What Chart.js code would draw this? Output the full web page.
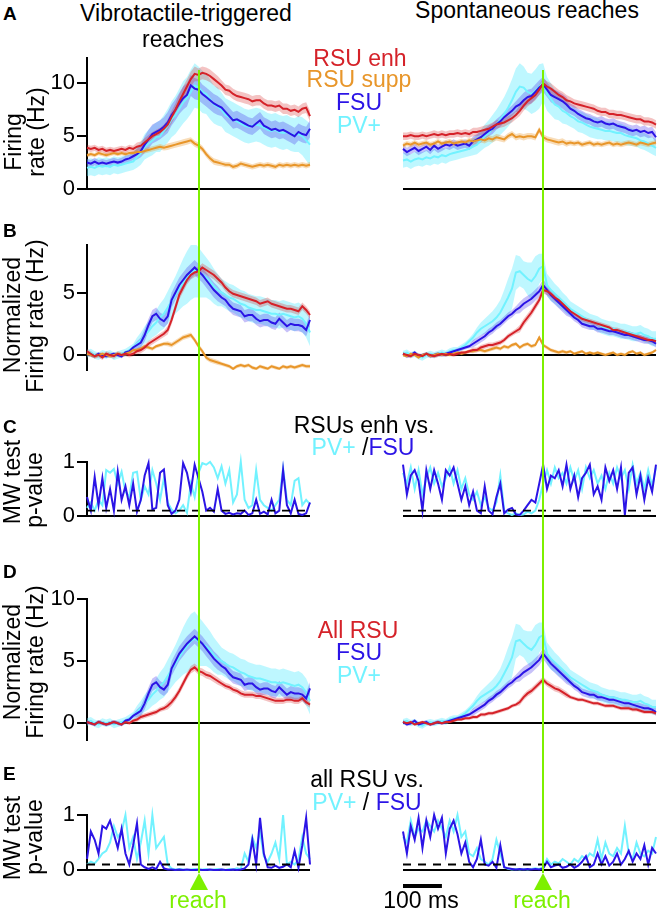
<!DOCTYPE html>
<html><head><meta charset="utf-8">
<script src="https://cdn.jsdelivr.net/npm/chart.js@4.4.1/dist/chart.umd.min.js"></script>
<style>
html,body{margin:0;padding:0;background:#fff;}
#wrap{position:relative;width:660px;height:912px;overflow:hidden;background:#fff;font-family:"Liberation Sans",Arial,Helvetica,sans-serif;}
#wrap canvas{position:absolute;}
.tx{position:absolute;white-space:nowrap;line-height:1;color:#000;z-index:5;}
</style></head><body><div id="wrap"></div>
<script>
// ---------- time grids (ms relative to reach) ----------
const tL = [-290,-280,-270,-260,-250,-240,-230,-220,-210,-200,-190,-180,-170,-160,-150,-140,-130,-120,-110,-100,-90,-80,-70,-60,-50,-40,-30,-20,-10,0,10,20,30,40,50,60,70,80,90,100,110,120,130,140,150,160,170,180,190,200,210,220,230,240,250,260,270,280,290];
const tR = [-360,-350,-340,-330,-320,-310,-300,-290,-280,-270,-260,-250,-240,-230,-220,-210,-200,-190,-180,-170,-160,-150,-140,-130,-120,-110,-100,-90,-80,-70,-60,-50,-40,-30,-20,-10,0,10,20,30,40,50,60,70,80,90,100,110,120,130,140,150,160,170,180,190,200,210,220,230,240,250,260,270,280,290];
const REACH_T = 0;
const SCALEBAR_MS = 100;
const ALPHA = 0.1;

// ---------- tick labels ----------
const ticksA = [0,5,10];
const ticksB = [0,5];
const ticksC = [0,1];
const ticksD = [0,5,10];
const ticksE = [0,1];

// ---------- A: firing rate (Hz), vibrotactile-triggered ----------
const rsuEnhL = [3.9,3.8,3.9,3.7,3.8,3.6,3.7,3.6,3.7,3.8,3.7,3.9,3.8, 4.0,4.1,4.4,4.7,5.0,5.2,5.4,5.7, 6.1,6.8,7.5,8.3,9.0,9.7,10.4,10.9,10.8,11.0,10.9,10.7,10.4,10.1, 9.8,9.4,9.3,9.0,8.8,8.7,8.6,8.5,8.3,8.4,8.4,8.1,7.9,7.9,7.8,7.9,7.6,7.6,7.4,7.5,7.3,7.6,7.7,6.9];
const rsuSuppL = [3.2,3.3,3.2,3.4,3.3,3.2,3.3,3.4,3.3,3.4,3.3,3.4,3.4, 3.5,3.5,3.6,3.7,3.8,3.9,4.0,3.9, 4.0,4.1,4.2,4.3,4.4,4.5,4.6,4.3,4.1,3.8,3.3,2.9,2.6,2.5, 2.4,2.3,2.3,2.1,2.2,2.4,2.3,2.2,2.1,2.2,2.3,2.2,2.3,2.2,2.1,2.3,2.2,2.3,2.2,2.3,2.2,2.3,2.2,2.3];
const fsuL = [2.5,2.4,2.6,2.4,2.5,2.4,2.5,2.6,2.5,2.6,2.8,2.9,3.1, 3.3,3.6,4.2,4.7,5.2,5.4,5.6,5.9, 6.3,7.0,7.5,8.1,8.6,8.9,9.8,9.5,9.4,9.0,8.7,8.4,8.1,7.9, 7.7,7.3,6.9,6.5,6.6,6.4,6.2,6.0,5.9,6.2,6.5,6.0,5.8,5.6,5.7,5.5,5.6,5.4,5.2,5.0,5.4,5.2,5.1,5.7];
const pvL = [2.0,2.1,2.0,2.2,2.1,2.2,2.1,2.3,2.2,2.3,2.4,2.5,2.6, 3.0,3.4,4.0,4.3,4.6,4.9,5.0,5.5, 6.0,6.6,7.0,7.6,8.2,8.6,9.2,9.8,9.6,9.2,9.0,8.5,8.0,7.8, 7.5,7.0,6.8,6.6,6.4,6.2,6.0,5.9,6.0,6.1,6.0,5.8,5.6,5.5,5.6,5.4,5.3,5.4,5.2,5.1,5.2,5.0,4.6,4.2];
const semEnhL = [.3,.3,.3,.3,.3,.3,.3,.3,.3,.3,.3,.3,.3, .4,.4,.4,.4,.4,.4,.4,.4, .5,.6,.6,.7,.7,.7,.7,.7,.6,.6,.6,.6,.6,.6, .5,.5,.5,.5,.5,.5,.5,.5,.5,.5, .5,.5,.5,.5,.5,.5,.5,.5,.5,.5, .5,.5,.5,.5];
const semSuppL = [.2,.2,.2,.2,.2,.2,.2,.2,.2,.2,.2,.2,.2, .25,.25,.25,.25,.25,.25,.25,.25, .3,.3,.3,.3,.3,.3,.3,.3,.3,.3,.3,.3,.3,.3, .25,.25,.25,.25,.25,.25,.25,.25,.25,.25, .25,.25,.25,.25,.25,.25,.25,.25,.25,.25, .25,.25,.25,.25];
const semFsuL = [.35,.35,.35,.35,.35,.35,.35,.35,.35,.35,.35,.35,.35, .5,.6,.8,.9,.9,.9,.9,.9, 1,1,1,1,1.1,1.1,1,1,1,.9,.9,.9,.9,.9, .8,.8,.8,.8,.8,.8,.8,.8,.8,.8, .8,.8,.8,.8,.8,.8,.8,.8,.8,.8, .8,.8,.8,.8];
const semPvL = [.8,.8,.8,.8,.8,.8,.8,.8,.8,.8,.8,.8,.8, 1,1.1,1.2,1.3,1.4,1.4,1.5,1.5, 1.6,1.7,1.8,1.9,2,2,2.1,2.1,2,2,1.9,1.9,1.8,1.8, 1.6,1.6,1.6,1.6,1.6,1.6,1.6,1.6,1.6,1.6, 1.6,1.6,1.6,1.6,1.6,1.6,1.6,1.6,1.6,1.6, 1.7,1.8,1.9,2];

// ---------- A: firing rate (Hz), spontaneous ----------
const rsuEnhR = [5.0,5.0,5.1,5.0,5.0,5.1,5.0,5.1,5.2,5.1,5.2,5.1,5.2,5.2,5.3,5.2,5.3,5.2, 5.4,5.4,5.5,5.6,5.7,5.9,6.1,6.2,6.3,6.5,6.7,7.0, 7.4,7.9,8.3,8.6,8.9,9.4,10.0,9.7,9.5,9.2,8.9,8.7,8.4, 8.3,8.1,8.0,7.9,7.8,7.7,7.6,7.4,7.3,7.3,7.1,7.1,7.0,7.0,6.9,6.8,6.7,6.6,6.6,6.4,6.4,6.3,6.1];
const rsuSuppR = [4.1,4.3,4.2,4.4,4.2,4.3,4.4,4.2,4.3,4.5,4.3,4.4,4.5,4.3,4.4,4.5,4.4,4.6, 4.5,4.6,4.7,4.6,4.8,4.7,4.9,4.8,4.7,5.0,5.2,4.9, 5.0,4.9,5.0,5.0,4.9,5.6,4.9,4.7,4.6,4.5,4.4,4.5,4.3, 4.4,4.3,4.4,4.2,4.3,4.4,4.2,4.3,4.2,4.3,4.4,4.2,4.3,4.2,4.3,4.4,4.3,4.2,4.4,4.3,4.2,4.3,4.4];
const fsuR = [3.8,3.5,3.7,3.9,3.6,3.8,4.0,3.7,4.1,3.8,4.0,4.2,4.1,4.3,4.1,4.2,4.3,4.1, 4.5,4.7,4.9,5.2,5.5,5.7,6.1,6.4,6.8,7.1,7.4,7.8, 8.0,8.4,8.7,8.8,9.2,9.6,9.9,9.4,8.9,8.7,8.5,8.3,8.0, 7.6,7.4,7.1,6.9,6.7,6.6,6.4,6.3,6.4,6.2,6.1,6.2,6.0,5.9,5.8,5.6,5.5,5.6,5.4,5.5,5.3,5.4,4.9];
const pvR = [2.7,2.8,2.6,2.8,2.9,2.8,3.0,2.9,3.1,3.0,3.2,3.1,3.3,3.4,3.5,3.6,3.7,3.8, 4.0,4.2,4.6,5.0,5.3,5.7,6.1,6.6,7.1,7.7,8.4,9.2, 9.7,9.6,9.2,9.0,9.3,9.7,10.1,9.0,8.5,8.0,7.8,7.4,7.2, 6.9,6.7,6.4,6.3,6.1,5.9,5.8,5.7,5.6,5.5,5.5,5.4,5.3,5.3,5.1,5.0,4.9,4.8,4.6,4.5,4.3,4.1,3.9];
const semEnhR = [.35,.35,.35,.35,.35,.35,.35,.35,.35,.35,.35,.35,.35,.35,.35,.35,.35,.35, .4,.4,.4,.4,.4,.4,.4,.4,.4,.4,.4,.4, .5,.5,.5,.5,.5,.5,.5,.5,.5,.5,.5,.5,.5, .4,.4,.4,.4,.4,.4,.4,.4,.4,.4,.4,.4,.4,.4,.4,.4,.4,.4,.4,.4,.4,.4,.4];
const semSuppR = [.25,.25,.25,.25,.25,.25,.25,.25,.25,.25,.25,.25,.25,.25,.25,.25,.25,.25, .3,.3,.3,.3,.3,.3,.3,.3,.3,.3,.3,.3, .3,.3,.3,.3,.3,.3,.3,.3,.3,.3,.3,.3,.3, .25,.25,.25,.25,.25,.25,.25,.25,.25,.25,.25,.25,.25,.25,.25,.25,.25,.25,.25,.25,.25,.25,.25];
const semFsuR = [.4,.4,.4,.4,.4,.4,.4,.4,.4,.4,.4,.4,.4,.4,.4,.4,.4,.4, .5,.5,.5,.5,.5,.5,.5,.5,.5,.5,.5,.5, .7,.7,.7,.7,.7,.7,.7,.7,.7,.7,.7,.7,.7, .5,.5,.5,.5,.5,.5,.5,.5,.5,.5,.5,.5,.5,.5,.5,.5,.5,.5,.5,.5,.5,.5,.5];
const semPvR = [.7,.7,.7,.7,.7,.7,.7,.7,.7,.7,.7,.7,.7,.7,.7,.7,.7,.7, .8,.9,1,1.1,1.2,1.3,1.4,1.5,1.6,1.8,2,2.2, 2.2,2,1.8,1.9,2,2.1,1.8,1.6,1.5,1.4,1.3,1.2,1.1, 1,1,1,1,1,1,1,1,.9,.9,.9,.9,.9,.9,.9,.9,.8,.8,.8,.8,.8,.8,.8];

// ---------- B: normalized firing rate ----------
const rsuEnhNL = [0.3,0.1,-0.1,0.0,-0.2,0.1,0.0,-0.1,0.1,0.0,0.1,0.0,0.1, 0.3,0.4,0.6,0.9,1.1,1.3,1.5,1.7, 2.0,2.8,3.8,4.8,5.4,6.0,6.4,6.6,6.7,7.0,6.8,6.6,6.4,6.1, 5.8,5.4,5.1,4.9,4.8,4.7,4.6,4.5,4.4,4.3,4.1,4.2,4.3,4.1,4.0,3.9,3.8,3.7,3.7,3.6,3.5,3.9,3.6,3.2];
const rsuSuppNL = [0.1,0.0,-0.1,0.0,0.1,0.0,-0.1,0.0,0.1,0.0,0.1,0.2,0.4, 0.4,0.5,0.7,0.6,0.5,0.7,0.8,0.9, 0.9,0.8,1.0,1.2,1.4,1.5,1.6,1.2,0.7,0.3,-0.2,-0.4,-0.5,-0.6, -0.7,-0.8,-0.9,-1.1,-0.9,-0.8,-0.9,-0.8,-1.0,-1.1,-0.9,-1.0,-1.1,-0.9,-1.0,-1.1,-0.9,-1.0,-0.9,-1.0,-0.9,-0.8,-0.9,-0.9];
const fsuNL = [0.1,0.0,-0.1,0.1,0.0,-0.1,0.0,0.1,0.0,-0.1,0.2,0.3,0.6, 0.8,1.0,1.6,2.4,3.1,3.3,2.9,2.7, 3.1,4.4,5.0,5.6,6.0,6.4,6.7,7.0,6.7,6.4,6.0,5.6,5.2,4.9, 4.6,4.4,4.0,3.7,3.6,3.5,3.1,3.2,3.2,2.9,2.7,2.8,2.8,2.6,2.5,2.9,2.6,2.3,2.5,2.4,2.4,2.3,2.0,2.8];
const pvNL = [0.1,0.2,0.0,-0.1,0.1,0.0,0.1,-0.1,0.0,0.1,0.2,0.4,0.6, 0.9,1.2,1.6,1.9,2.3,2.6,3.0,3.3, 3.8,4.3,4.8,5.3,5.8,6.2,6.6,6.8,6.6,6.4,6.2,5.9,5.5,5.2, 5.0,4.8,4.6,4.5,4.3,4.1,4.0,3.8,3.7,3.6,3.6,3.5,3.4,3.3,3.3,3.2,3.3,3.2,3.1,3.0,3.1,2.9,2.5,1.8];
const semEnhNL = [.2,.2,.2,.2,.2,.2,.2,.2,.2,.2,.2,.2,.2, .25,.25,.25,.25,.25,.25,.25,.25, .35,.35,.35,.35,.35,.35,.35,.35,.35,.35,.35,.35,.35,.35, .3,.3,.3,.3,.3,.3,.3,.3,.3,.3, .3,.3,.3,.3,.3,.3,.3,.3,.3,.3, .3,.3,.3,.3];
const semSuppNL = [.15,.15,.15,.15,.15,.15,.15,.15,.15,.15,.15,.15,.15, .15,.15,.15,.15,.15,.15,.15,.15, .2,.2,.2,.2,.2,.2,.2,.2,.2,.2,.2,.2,.2,.2, .15,.15,.15,.15,.15,.15,.15,.15,.15,.15, .15,.15,.15,.15,.15,.15,.15,.15,.15,.15, .15,.15,.15,.15];
const semFsuNL = [.15,.15,.15,.15,.15,.15,.15,.15,.15,.15,.15,.15,.15, .3,.4,.5,.5,.5,.5,.5,.5, .6,.6,.6,.6,.6,.6,.6,.6,.6,.6,.6,.6,.6,.6, .5,.5,.5,.5,.5,.5,.5,.5,.5,.5, .5,.5,.5,.5,.5,.5,.5,.5,.5,.5, .5,.5,.5,.5];
const semPvNL = [.3,.3,.3,.3,.3,.3,.3,.3,.3,.3,.3,.3,.3, .5,.6,.7,.8,.9,1,1.1,1.2, 1.3,1.4,1.5,1.7,1.9,2.1,2.2,2.2,2,1.8,1.6,1.5,1.4,1.3, 1.1,1.1,1.1,1.1,1.1,1.1,1.1,1.1,1.1,1.1, 1.1,1.1,1.1,1.1,1.1,1.1,1.1,1.1,1.1,1.1, 1.1,1.1,1.1,1.1];

const rsuEnhNR = [0.1,0.0,-0.1,0.1,0.0,-0.1,0.1,0.0,-0.1,0.0,0.1,0.0,0.1,0.0,0.1,0.2,0.2,0.3, 0.4,0.4,0.6,0.7,0.8,0.8,0.9,1.0,1.2,1.5,1.7,1.9, 2.1,2.6,3.0,3.4,3.9,4.4,5.2,5.1,4.9,4.6,4.4,4.1,3.8, 3.5,3.3,3.1,2.9,2.8,2.7,2.6,2.5,2.4,2.3,2.2,2.0,2.0,1.9,1.8,1.7,1.6,1.5,1.4,1.3,1.2,1.2,1.1];
const rsuSuppNR = [0.0,-0.1,0.1,0.0,-0.2,0.0,0.1,-0.1,0.0,0.1,0.0,0.1,0.0,0.1,0.2,0.1,0.2,0.3, 0.3,0.4,0.4,0.3,0.4,0.5,0.6,0.5,0.7,0.6,0.8,0.9, 0.6,0.8,0.9,0.7,0.8,1.4,0.8,0.6,0.4,0.3,0.2,0.3,0.2, 0.3,0.1,0.2,0.3,0.1,0.2,0.1,0.2,0.1,0.0,0.1,0.2,0.0,0.1,0.0,0.2,0.3,0.1,0.2,0.0,0.1,0.2,0.4];
const fsuNR = [0.1,-0.1,0.0,0.2,-0.1,0.0,0.1,-0.1,0.0,0.1,0.0,0.1,0.2,0.3,0.4,0.5,0.6,0.7, 0.9,1.1,1.3,1.5,1.8,2.0,2.3,2.5,2.8,3.1,3.3,3.6, 3.8,4.1,4.3,4.5,4.8,5.1,5.6,5.2,4.8,4.5,4.2,3.9,3.6, 3.3,3.0,2.8,2.5,2.4,2.3,2.3,2.1,2.1,2.0,1.9,1.9,1.8,1.7,1.6,1.6,1.5,1.4,1.3,1.2,1.2,1.1,0.9];
const pvNR = [0.1,0.2,0.0,0.1,-0.1,-0.2,0.0,0.1,0.0,0.1,0.2,0.1,0.3,0.4,0.4,0.6,0.8,1.1, 1.4,1.8,2.1,2.3,2.5,2.7,3.0,3.4,4.0,4.6,5.3,6.6, 6.7,6.4,6.1,5.9,6.3,6.9,7.1,5.6,5.2,4.9,4.6,4.3,4.0, 3.7,3.5,3.3,3.1,2.9,2.7,2.6,2.5,2.3,2.2,2.1,2.1,2.0,1.9,1.9,1.8,1.7,1.7,1.8,1.6,1.5,1.3,1.3];
const semEnhNR = [.15,.15,.15,.15,.15,.15,.15,.15,.15,.15,.15,.15,.15,.15,.15,.15,.15,.15, .2,.2,.2,.2,.2,.2,.2,.2,.2,.2,.2,.2, .3,.3,.3,.3,.3,.3,.3,.3,.3,.3,.3,.3,.3, .2,.2,.2,.2,.2,.2,.2,.2,.2,.2,.2,.2,.2,.2,.2,.2,.2,.2,.2,.2,.2,.2,.2];
const semSuppNR = [.12,.12,.12,.12,.12,.12,.12,.12,.12,.12,.12,.12,.12,.12,.12,.12,.12,.12, .15,.15,.15,.15,.15,.15,.15,.15,.15,.15,.15,.15, .15,.15,.15,.15,.15,.15,.15,.15,.15,.15,.15,.15,.15, .12,.12,.12,.12,.12,.12,.12,.12,.12,.12,.12,.12,.12,.12,.12,.12,.12,.12,.12,.12,.12,.12,.12];
const semFsuNR = [.15,.15,.15,.15,.15,.15,.15,.15,.15,.15,.15,.15,.15,.15,.15,.15,.15,.15, .3,.3,.3,.3,.3,.3,.3,.3,.3,.3,.3,.3, .45,.45,.45,.45,.45,.45,.45,.45,.45,.45,.45,.45,.45, .3,.3,.3,.3,.3,.3,.3,.3,.3,.3,.3,.3,.3,.3,.3,.3,.3,.3,.3,.3,.3,.3,.3];
const semPvNR = [.25,.25,.25,.25,.25,.25,.25,.25,.25,.25,.25,.25,.25,.25,.25,.25,.25,.25, .3,.4,.5,.6,.7,.8,.9,1,1.2,1.5,1.6,1.4, 1.2,1.1,1.3,1.5,1.6,1.2,1,.9,.9,.8,.8,.7,.7, .6,.6,.6,.6,.6,.6,.6,.6,.6,.6,.6,.6,.6,.6,.6,.6,.6,.6,.6,.6,.6,.6,.6];

// ---------- D: all RSU normalized ----------
const allRsuNL = [0.1,0.0,-0.1,0.1,0.0,-0.1,0.0,0.1,0.0,-0.1,0.1,0.0,0.2, 0.3,0.5,0.6,0.7,0.8,0.9,1.1,1.2, 1.4,1.7,2.1,2.6,3.2,3.8,4.3,4.5,4.2,4.1,3.9,3.8,3.6,3.4, 3.2,3.0,2.9,2.7,2.6,2.4,2.3,2.3,2.3,2.2,2.2,2.1,2.0,1.9,1.8,1.8,1.8,1.9,1.9,1.8,1.8,2.0,1.7,1.5];
const allRsuNR = [0.1,0.0,0.1,-0.1,0.0,0.1,0.0,-0.1,0.0,0.1,0.0,0.1,0.1,0.2,0.3,0.3,0.4,0.4, 0.5,0.5,0.7,0.7,0.8,0.8,0.9,1.0,1.1,1.2,1.4,1.5, 1.7,2.1,2.4,2.6,2.9,3.2,3.5,3.2,3.0,2.8,2.7,2.5,2.3, 2.1,2.0,1.9,1.9,1.8,1.7,1.6,1.6,1.5,1.4,1.4,1.4,1.3,1.2,1.2,1.2,1.1,1.1,1.0,0.9,0.9,0.9,0.8];
const semAllNL = [.15,.15,.15,.15,.15,.15,.15,.15,.15,.15,.15,.15,.15, .2,.2,.2,.2,.2,.2,.2,.2, .3,.3,.3,.3,.3,.3,.3,.3,.3,.3,.3,.3,.3,.3, .25,.25,.25,.25,.25,.25,.25,.25,.25,.25, .25,.25,.25,.25,.25,.25,.25,.25,.25,.25, .25,.25,.25,.25];
const semAllNR = [.12,.12,.12,.12,.12,.12,.12,.12,.12,.12,.12,.12,.12,.12,.12,.12,.12,.12, .15,.15,.15,.15,.15,.15,.15,.15,.15,.15,.15,.15, .25,.25,.25,.25,.25,.25,.25,.25,.25,.25,.25,.25,.25, .15,.15,.15,.15,.15,.15,.15,.15,.15,.15,.15,.15,.15,.15,.15,.15,.15,.15,.15,.15,.15,.15,.15];

// ---------- C: MW p-values, RSU enh vs PV+/FSU ----------
const pcFsuL = [0.35,0.1,0.72,0.2,0.7,0.15,0.5,0.1,0.82,0.3,0.55,0.2,0.6,0.08,0.3,0.75,0.98,0.12,0.15,0.8,0.86,0.2,0.04,0.1,0.3,0.98,0.8,0.45,0.95,0.7,0.45,0.1,0.15,0.08,0.5,0.1,0.04,0.06,0.03,0.05,0.04,0.1,0.02,0.05,0.3,0.04,0.08,0.03,0.3,0.05,0.1,0.85,0.2,0.05,0.3,0.04,0.02,0.05,0.25];
const pcPvL = [0.15,0.25,0.1,0.3,0.2,0.85,0.8,0.87,0.6,0.82,0.45,0.35,0.8,0.82,0.3,0.55,0.4,0.85,0.6,0.3,0.7,0.25,0.12,0.05,0.1,0.2,0.06,0.6,0.35,0.8,0.98,0.95,1.0,0.9,0.7,0.92,0.6,0.85,0.25,0.4,1.0,0.3,0.15,0.2,0.85,0.3,0.2,0.15,0.1,0.2,0.3,0.88,0.3,0.2,0.65,0.7,0.2,0.3,0.22];
const pcFsuR = [0.95,0.4,0.75,0.85,0.65,0.1,0.85,0.5,0.85,0.6,0.3,0.85,0.75,0.9,0.6,0.3,0.55,0.2,0.45,0.1,0.05,0.55,0.1,0.03,0.35,0.6,0.05,0.12,0.15,0.03,0.02,0.1,0.2,0.3,0.25,0.6,0.95,0.5,0.75,0.7,0.85,0.55,0.95,0.5,0.75,0.35,0.7,0.8,0.95,0.4,0.55,0.3,0.9,0.65,0.85,0.5,0.9,0.02,0.8,0.9,0.4,0.75,0.3,0.7,0.45,0.95];
const pcPvR = [0.8,0.6,0.9,0.5,0.85,0.4,0.7,0.9,0.6,0.8,0.55,0.7,0.9,0.6,0.85,0.5,0.7,0.4,0.3,0.45,0.2,0.35,0.15,0.1,0.25,0.75,0.1,0.05,0.02,0.05,0.02,0.03,0.08,0.05,0.1,0.3,0.6,0.85,0.6,0.9,0.7,0.8,0.6,0.9,0.65,0.85,0.5,0.9,0.7,0.85,0.6,0.75,0.5,0.8,0.6,0.9,0.7,0.85,0.5,0.95,0.6,0.8,0.5,0.85,0.55,0.9];

// ---------- E: MW p-values, all RSU vs PV+/FSU ----------
const peFsuL = [0.2,0.7,0.55,0.3,0.8,0.75,0.9,0.65,0.4,0.75,0.3,0.1,0.45,0.85,0.1,0.05,0.02,0.05,0.02,0.15,0.03,0.01,0.01,0.0,0.01,0.0,0.01,0.0,0.0,0.01,0.0,0.0,0.01,0.0,0.0,0.01,0.0,0.0,0.01,0.0,0.01,0.03,0.1,0.55,0.1,0.95,0.3,0.05,0.04,0.08,0.04,0.06,0.1,0.05,0.35,0.04,0.45,0.95,0.1];
const pePvL = [0.1,0.15,0.12,0.2,0.3,0.35,0.5,0.8,0.6,0.7,1.0,0.4,0.6,0.2,0.5,0.9,0.3,1.0,0.4,0.5,0.6,0.1,0.03,0.01,0.02,0.01,0.0,0.01,0.02,0.0,0.01,0.02,0.0,0.01,0.02,0.01,0.0,0.02,0.01,0.03,0.02,0.3,0.15,0.6,0.4,0.7,0.25,0.15,0.3,0.5,0.2,1.0,0.1,0.15,0.1,0.2,0.6,0.3,0.2];
const peFsuR = [0.7,0.3,0.8,0.55,0.95,0.4,0.9,0.6,1.0,0.75,0.95,0.3,0.75,0.9,0.65,0.3,0.5,0.15,0.05,0.2,0.55,0.1,0.08,0.15,0.04,0.45,0.05,0.03,0.02,0.01,0.02,0.01,0.02,0.01,0.02,0.01,0.03,0.15,0.05,0.08,0.1,0.04,0.06,0.1,0.04,0.08,0.15,0.25,0.05,0.1,0.3,0.1,0.25,0.08,0.15,0.3,0.1,0.2,0.35,0.15,0.3,0.2,0.45,0.1,0.4,0.3];
const pePvR = [0.6,0.5,0.9,0.6,0.75,0.7,0.9,0.8,0.7,0.9,0.75,0.6,0.9,0.7,1.0,0.6,0.7,0.3,0.25,0.4,0.2,0.15,0.1,0.2,0.55,0.3,0.05,0.02,0.01,0.02,0.01,0.02,0.01,0.02,0.03,0.02,0.05,0.2,0.1,0.15,0.12,0.2,0.15,0.1,0.2,0.15,0.25,0.2,0.3,0.25,0.55,0.2,0.5,0.3,0.25,0.4,0.3,0.8,0.3,0.2,0.5,0.3,0.25,0.35,0.3,0.6];

// ---------- styles ----------
const FONT = '"Liberation Sans", Arial, Helvetica, sans-serif';
const C_RED = '#d52229', C_ORG = '#e8962a', C_BLU = '#2b14e6', C_CYN = '#72f2ff', GREEN = '#7df000';
const B_RED = 'rgba(214,40,40,0.28)', B_ORG = 'rgba(232,150,40,0.32)', B_BLU = 'rgba(70,50,235,0.3)', B_CYN = 'rgba(100,235,255,0.42)';

const wrap = document.getElementById('wrap');

const ROWS = {
  A: {top:40,  h:180, padT:18, padB:31, min:0,     max:12.4, ticks:ticksA},
  B: {top:220, h:200, padT:25, padB:50, min:-1.2,  max:8.8,  ticks:ticksB},
  C: {top:420, h:160, padT:42, padB:64, min:0,     max:1,    ticks:ticksC},
  D: {top:580, h:210, padT:19, padB:50, min:-1.35, max:10,   ticks:ticksD},
  E: {top:790, h:122, padT:25, padB:42, min:0,     max:1,    ticks:ticksE}
};
const SIDES = {
  L: {left:0,   width:330, axisW:87, padR:20, t:tL, showAxis:true},
  R: {left:330, width:330, axisW:73, padR:4,  t:tR, showAxis:false}
};

function line(t, arr, color, w, order, dash) {
  return {data: arr.map((v,i)=>({x:t[i], y:v})), borderColor:color, borderWidth:w, pointRadius:0,
          fill:false, clip:false, order:order, borderDash: dash || []};
}
function bandDs(t, m, s, color, order) {
  return [
    {data: m.map((v,i)=>({x:t[i], y:v + s[i]})), borderWidth:0, borderColor:'rgba(0,0,0,0)', pointRadius:0, fill:false, clip:false, order:order},
    {data: m.map((v,i)=>({x:t[i], y:v - s[i]})), borderWidth:0, borderColor:'rgba(0,0,0,0)', pointRadius:0, fill:'-1', backgroundColor:color, clip:false, order:order}
  ];
}
function alphaLine(t) {
  return {data:[{x:t[0], y:ALPHA},{x:t[t.length-1], y:ALPHA}], borderColor:'#000', borderWidth:1.8,
          borderDash:[8,7], pointRadius:0, fill:false, clip:false, order:0};
}

function reachPlugin(rowKey, sideKey) {
  return {
    id: 'reach' + rowKey + sideKey,
    afterDatasetsDraw(chart) {
      const ctx = chart.ctx, xs = chart.scales.x;
      const x = Math.round(xs.getPixelForValue(REACH_T));
      const y0 = rowKey === 'A' ? 30 : 0;
      const y1 = rowKey === 'E' ? 83 : chart.height;
      ctx.save();
      ctx.strokeStyle = GREEN; ctx.lineWidth = 2;
      ctx.beginPath(); ctx.moveTo(x, y0); ctx.lineTo(x, y1); ctx.stroke();
      if (rowKey === 'E') {
        ctx.fillStyle = GREEN;
        ctx.beginPath(); ctx.moveTo(x, 83); ctx.lineTo(x - 9, 100); ctx.lineTo(x + 9, 100); ctx.closePath(); ctx.fill();
        if (sideKey === 'R') {
          const t = SIDES.R.t;
          const a = xs.getPixelForValue(t[0]), b = xs.getPixelForValue(t[0] + SCALEBAR_MS);
          ctx.strokeStyle = '#000'; ctx.lineWidth = 4;
          ctx.beginPath(); ctx.moveTo(a, 96); ctx.lineTo(b, 96); ctx.stroke();
        }
      }
      ctx.restore();
    }
  };
}

function makeChart(rowKey, sideKey, datasets) {
  const row = ROWS[rowKey], side = SIDES[sideKey];
  const cv = document.createElement('canvas');
  cv.width = side.width; cv.height = row.h;
  cv.style.left = side.left + 'px'; cv.style.top = row.top + 'px';
  cv.style.width = side.width + 'px'; cv.style.height = row.h + 'px';
  wrap.appendChild(cv);
  const t = side.t;
  new Chart(cv.getContext('2d'), {
    type: 'line',
    data: {datasets: datasets},
    options: {
      responsive: false, animation: false, devicePixelRatio: 1,
      layout: {padding: {top: row.padT, bottom: row.padB, left: 0, right: side.padR}},
      plugins: {legend: {display: false}, tooltip: {enabled: false}},
      elements: {point: {radius: 0}, line: {tension: 0}},
      scales: {
        x: {type: 'linear', min: t[0], max: t[t.length - 1], display: false},
        y: {
          type: 'linear', min: row.min, max: row.max, position: 'left',
          afterFit: s => { s.width = side.axisW; },
          afterBuildTicks: s => { s.ticks = row.ticks.map(v => ({value: v})); },
          border: {display: side.showAxis, color: '#000', width: 2},
          grid: {drawOnChartArea: true, drawTicks: side.showAxis, tickLength: 10, lineWidth: 2,
                 color: c => (c.tick && c.tick.value === 0) ? '#000' : 'rgba(0,0,0,0)', tickColor: '#000'},
          ticks: {display: side.showAxis, padding: 2, color: '#000', font: {family: FONT, size: 22},
                  callback: v => String(v)}
        }
      }
    },
    plugins: [reachPlugin(rowKey, sideKey)]
  });
}

function rateSet(t, enh, supp, fsu, pv, sEnh, sSupp, sFsu, sPv) {
  return [
    ...bandDs(t, enh, sEnh, B_RED, 20), ...bandDs(t, supp, sSupp, B_ORG, 21),
    ...bandDs(t, fsu, sFsu, B_BLU, 22), ...bandDs(t, pv, sPv, B_CYN, 23),
    line(t, pv, C_CYN, 2, 4), line(t, fsu, C_BLU, 2, 3), line(t, supp, C_ORG, 2, 2), line(t, enh, C_RED, 2, 1)
  ];
}
function allSet(t, all, fsu, pv, sAll, sFsu, sPv) {
  return [
    ...bandDs(t, all, sAll, B_RED, 20), ...bandDs(t, fsu, sFsu, B_BLU, 22), ...bandDs(t, pv, sPv, B_CYN, 23),
    line(t, pv, C_CYN, 2, 4), line(t, fsu, C_BLU, 2, 3), line(t, all, C_RED, 2, 1)
  ];
}
function pSet(t, fsu, pv) {
  return [alphaLine(t), line(t, fsu, C_BLU, 2, 2), line(t, pv, C_CYN, 2, 3)];
}

makeChart('A', 'L', rateSet(tL, rsuEnhL, rsuSuppL, fsuL, pvL, semEnhL, semSuppL, semFsuL, semPvL));
makeChart('A', 'R', rateSet(tR, rsuEnhR, rsuSuppR, fsuR, pvR, semEnhR, semSuppR, semFsuR, semPvR));
makeChart('B', 'L', rateSet(tL, rsuEnhNL, rsuSuppNL, fsuNL, pvNL, semEnhNL, semSuppNL, semFsuNL, semPvNL));
makeChart('B', 'R', rateSet(tR, rsuEnhNR, rsuSuppNR, fsuNR, pvNR, semEnhNR, semSuppNR, semFsuNR, semPvNR));
makeChart('C', 'L', pSet(tL, pcFsuL, pcPvL));
makeChart('C', 'R', pSet(tR, pcFsuR, pcPvR));
makeChart('D', 'L', allSet(tL, allRsuNL, fsuNL, pvNL, semAllNL, semFsuNL, semPvNL));
makeChart('D', 'R', allSet(tR, allRsuNR, fsuNR, pvNR, semAllNR, semFsuNR, semPvNR));
makeChart('E', 'L', pSet(tL, peFsuL, pePvL));
makeChart('E', 'R', pSet(tR, peFsuR, pePvR));

// ---------- text ----------
function addText(html, x, base, fs, opt) {
  opt = opt || {};
  const d = document.createElement('div');
  d.className = 'tx';
  d.innerHTML = html;
  d.style.fontSize = fs + 'px';
  if (opt.bold) d.style.fontWeight = 'bold';
  if (opt.color) d.style.color = opt.color;
  if (opt.rot) {
    d.style.left = (x - 0.3465 * fs) + 'px';
    d.style.top = base + 'px';
    d.style.transform = 'translate(-50%,-50%) rotate(-90deg)';
  } else {
    d.style.top = (base - 0.8465 * fs) + 'px';
    d.style.left = x + 'px';
    if (!opt.left) d.style.transform = 'translateX(-50%)';
  }
  wrap.appendChild(d);
}
const sp = (c, s) => '<span style="color:' + c + '">' + s + '</span>';
const FS = 23;
// panel letters
addText('A', 3, 20, 19, {bold:true, left:true});
addText('B', 3, 237, 19, {bold:true, left:true});
addText('C', 3, 433, 19, {bold:true, left:true});
addText('D', 3, 578, 19, {bold:true, left:true});
addText('E', 3, 780, 19, {bold:true, left:true});
// titles
addText('Vibrotactile-triggered', 186, 21, FS);
addText('reaches', 183, 47, FS);
addText('Spontaneous reaches', 527, 18, FS);
// y titles
addText('Firing', 21, 142, FS, {rot:true});
addText('rate (Hz)', 44, 132, FS, {rot:true});
addText('Normalized', 20, 315, FS, {rot:true});
addText('Firing rate (Hz)', 43, 316, FS, {rot:true});
addText('MW test', 20, 482, FS, {rot:true});
addText('p-value', 42, 490, FS, {rot:true});
addText('Normalized', 20, 662, FS, {rot:true});
addText('Firing rate (Hz)', 43, 662, FS, {rot:true});
addText('MW test', 20, 838, FS, {rot:true});
addText('p-value', 42, 837, FS, {rot:true});
// legends
addText(sp(C_RED, 'RSU enh'), 360, 66, FS);
addText(sp(C_ORG, 'RSU supp'), 359, 87, FS);
addText(sp(C_BLU, 'FSU'), 359, 110, FS);
addText(sp(C_CYN, 'PV+'), 359, 133, FS);
addText('RSUs enh vs.', 364, 433, FS);
addText(sp(C_CYN, 'PV+') + ' /' + sp(C_BLU, 'FSU'), 363, 455, FS);
addText(sp(C_RED, 'All RSU'), 358, 638, FS);
addText(sp(C_BLU, 'FSU'), 359, 660, FS);
addText(sp(C_CYN, 'PV+'), 359, 683, FS);
addText('all RSU vs.', 367, 787, FS);
addText(sp(C_CYN, 'PV+') + ' / ' + sp(C_BLU, 'FSU'), 367, 810, FS);
// bottom
addText(sp(GREEN, 'reach'), 198, 908, FS);
addText(sp(GREEN, 'reach'), 542, 908, FS);
addText('100 ms', 421, 908, FS);
</script></body></html>
